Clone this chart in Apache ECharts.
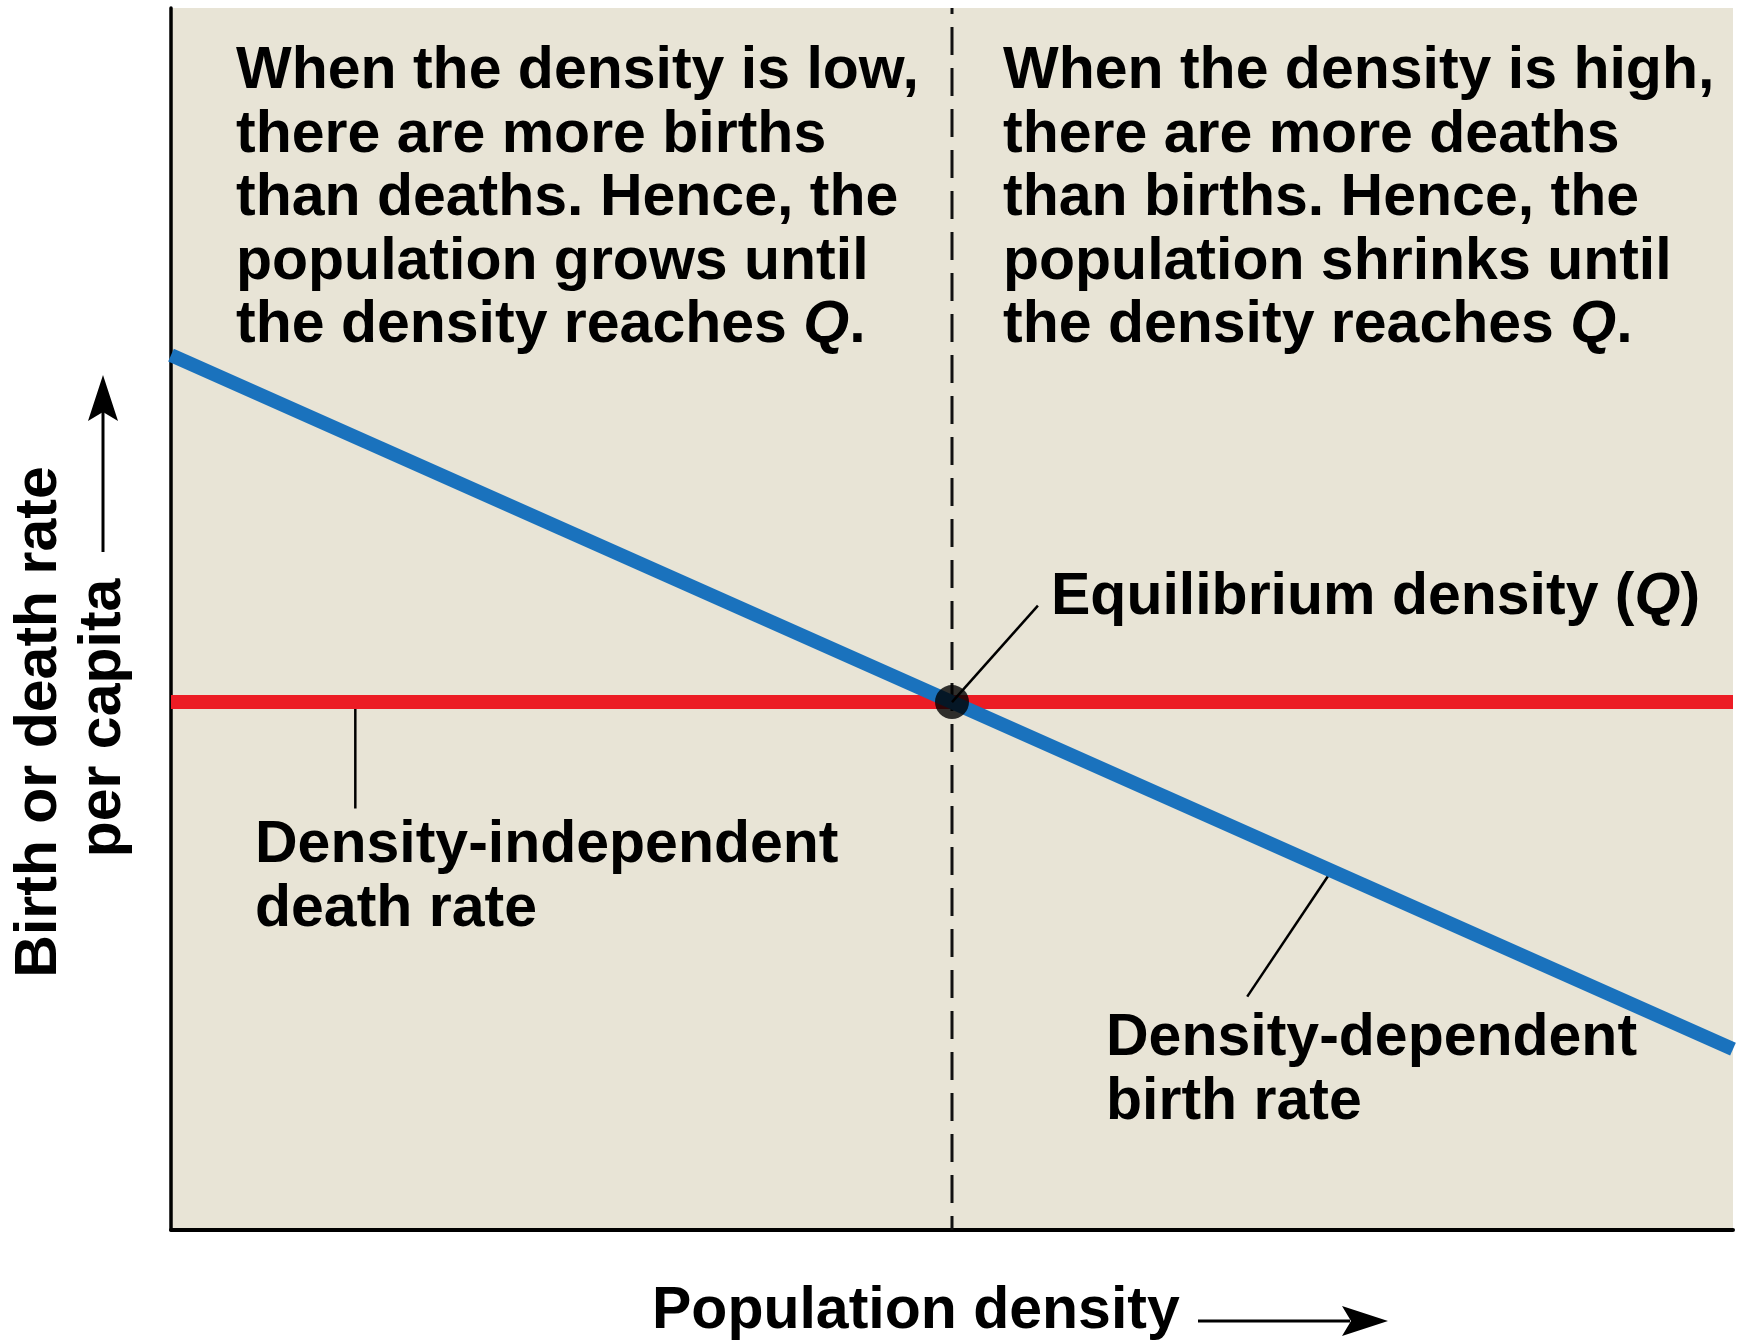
<!DOCTYPE html>
<html>
<head>
<meta charset="utf-8">
<title>Density-dependent population regulation</title>
<script src="https://cdn.jsdelivr.net/npm/echarts/dist/echarts.min.js"></script>
<style>
  html, body { margin: 0; padding: 0; background: #ffffff; }
  #chart { width: 1739px; height: 1340px; }
</style>
</head>
<body>
<div id="chart"></div>
<script>
// Axis ranges (arbitrary units: density and per-capita rate)
const densityRange = [0, 100];
const rateRange = [0, 100];

// Equilibrium density Q and the constant death rate
const equilibriumDensity = 50;
const deathRate = 43.2;

// Birth rate falls linearly with density: [density, rate] end points
const birthRatePoints = [[0, 71.6], [100, 14.8]];
const deathRatePoints = [[0, deathRate], [100, deathRate]];

// Leader lines tying labels to the curves
const deathLeader = [[11.8, deathRate], [11.8, 34.5]];
const equilibriumLeader = [[equilibriumDensity, deathRate], [55.5, 51.1]];
const birthLeader = [[74.3, 29.4], [68.9, 19.1]];

// Text
const lowDensityNote = [
  'When the density is low,',
  'there are more births',
  'than deaths. Hence, the',
  'population grows until',
  'the density reaches Q.'
];
const highDensityNote = [
  'When the density is high,',
  'there are more deaths',
  'than births. Hence, the',
  'population shrinks until',
  'the density reaches Q.'
];
const equilibriumLabel = ['Equilibrium density (Q)'];
const deathLabel = ['Density-independent', 'death rate'];
const birthLabel = ['Density-dependent', 'birth rate'];
const yTitle = ['Birth or death rate', 'per capita'];
const xTitle = 'Population density';

const FONT = '"Liberation Sans", Arial, Helvetica, sans-serif';
const FS = 59;
const LINE = 63.5;
const BASE_TO_MID = 17; // distance from the alphabetic baseline up to the middle of a line

// Wrap the symbol Q in an italic rich-text token
function italicQ(s) {
  return s.replace(/\bQ\b/g, '{q|Q}');
}

function textBlock(lines, x, firstBaseline) {
  return lines.map(function (line, i) {
    return {
      type: 'text',
      x: x,
      y: firstBaseline + i * LINE - BASE_TO_MID,
      z: 100,
      silent: true,
      style: {
        text: italicQ(line),
        fontFamily: FONT,
        fontWeight: 'bold',
        fontSize: FS,
        fill: '#000000',
        textAlign: 'left',
        textVerticalAlign: 'middle',
        rich: {
          q: { fontFamily: FONT, fontWeight: 'bold', fontStyle: 'italic', fontSize: FS, fill: '#000000' }
        }
      }
    };
  });
}

const chart = echarts.init(document.getElementById('chart'), null, { renderer: 'canvas' });

const graphics = []
  .concat(textBlock(lowDensityNote, 236, 89))
  .concat(textBlock(highDensityNote, 1003, 89))
  .concat(textBlock(equilibriumLabel, 1051, 615))
  .concat(textBlock(deathLabel, 255, 863))
  .concat(textBlock(birthLabel, 1106, 1056))
  .concat(textBlock([xTitle], 652, 1329));

// Rotated y-axis title, two lines reading bottom to top
yTitle.forEach(function (line, i) {
  graphics.push({
    type: 'text',
    x: [40, 104][i],
    y: [722, 718][i],
    rotation: Math.PI / 2,
    z: 100,
    silent: true,
    style: {
      text: line,
      fontFamily: FONT,
      fontWeight: 'bold',
      fontSize: FS,
      fill: '#000000',
      textAlign: 'center',
      textVerticalAlign: 'middle'
    }
  });
});

// Direction arrows beside the axis titles
graphics.push(
  { type: 'line', z: 100, silent: true, shape: { x1: 103, y1: 552, x2: 103, y2: 410 }, style: { stroke: '#000', lineWidth: 3 } },
  { type: 'polygon', z: 100, silent: true, shape: { points: [[103, 375], [88, 421], [103, 412], [118, 421]] }, style: { fill: '#000' } },
  { type: 'line', z: 100, silent: true, shape: { x1: 1198, y1: 1321, x2: 1350, y2: 1321 }, style: { stroke: '#000', lineWidth: 3 } },
  { type: 'polygon', z: 100, silent: true, shape: { points: [[1388, 1321], [1342, 1306], [1351, 1321], [1342, 1336]] }, style: { fill: '#000' } }
);

const hiddenAxisBits = {
  axisTick: { show: false },
  axisLabel: { show: false },
  splitLine: { show: false }
};

chart.setOption({
  animation: false,
  backgroundColor: '#ffffff',
  grid: {
    left: 171, right: 6, top: 8, bottom: 110,
    show: true,
    backgroundColor: '#E8E4D6',
    borderWidth: 0
  },
  xAxis: Object.assign({
    type: 'value',
    min: densityRange[0],
    max: densityRange[1],
    axisLine: { show: true, onZero: false, lineStyle: { color: '#000000', width: 4 } }
  }, hiddenAxisBits),
  yAxis: Object.assign({
    type: 'value',
    min: rateRange[0],
    max: rateRange[1],
    axisLine: { show: true, onZero: false, lineStyle: { color: '#000000', width: 3.5 } }
  }, hiddenAxisBits),
  graphic: graphics,
  series: [
    {
      name: 'Equilibrium marker',
      type: 'line',
      data: [[equilibriumDensity, rateRange[0]], [equilibriumDensity, rateRange[1]]],
      symbol: 'none',
      z: 1,
      lineStyle: { color: '#111111', width: 3, type: [28, 13], dashOffset: 14 }
    },
    {
      name: 'Death leader',
      type: 'line',
      data: deathLeader,
      symbol: 'none',
      z: 2,
      lineStyle: { color: '#000000', width: 2.5 }
    },
    {
      name: 'Birth leader',
      type: 'line',
      data: birthLeader,
      symbol: 'none',
      z: 2,
      lineStyle: { color: '#000000', width: 2.5 }
    },
    {
      name: 'Density-independent death rate',
      type: 'line',
      data: deathRatePoints,
      symbol: 'none',
      z: 3,
      lineStyle: { color: '#EC1C24', width: 14, cap: 'butt' }
    },
    {
      name: 'Density-dependent birth rate',
      type: 'line',
      data: birthRatePoints,
      symbol: 'none',
      z: 4,
      lineStyle: { color: '#1A72BD', width: 14, cap: 'butt' }
    },
    {
      name: 'Equilibrium leader',
      type: 'line',
      data: equilibriumLeader,
      symbol: 'none',
      z: 5,
      lineStyle: { color: '#000000', width: 2.5 }
    },
    {
      name: 'Equilibrium density',
      type: 'scatter',
      data: [[equilibriumDensity, deathRate]],
      symbol: 'circle',
      symbolSize: 34,
      z: 6,
      itemStyle: { color: '#000000' }
    }
  ]
});
</script>
</body>
</html>
